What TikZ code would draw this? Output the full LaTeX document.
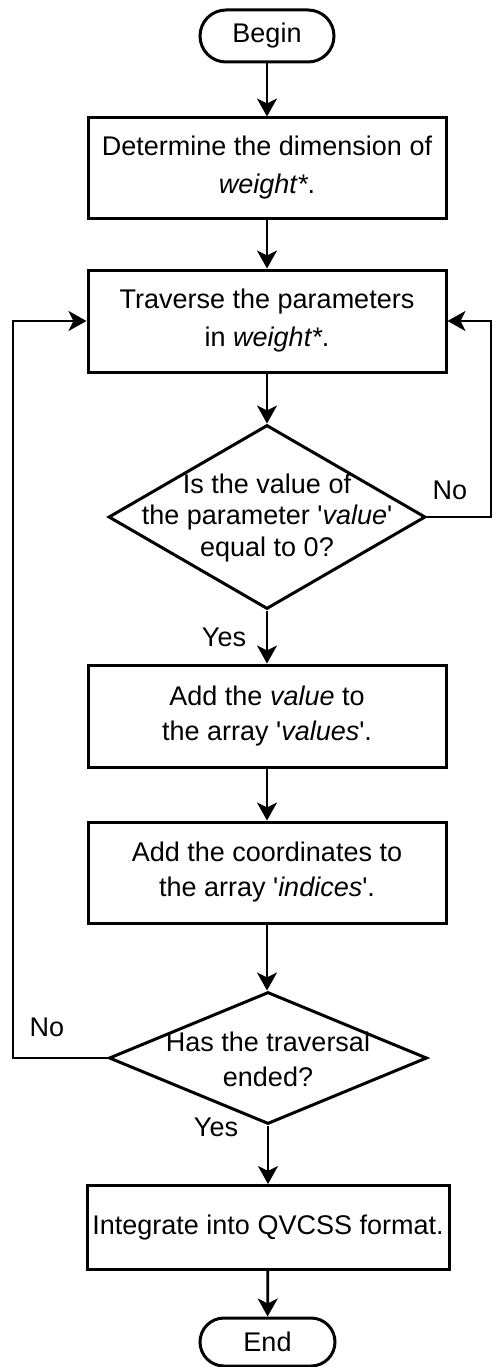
\documentclass[tikz,border=0pt]{standalone}
\usepackage{fontspec}
\setmainfont{Liberation Sans}[Ligatures=TeXOff]
\usetikzlibrary{arrows.meta,shapes.geometric}
\begin{document}
\begin{tikzpicture}[x=1pt,y=-1pt,
  every node/.style={font=\fontsize{27}{35}\selectfont},
  box/.style={draw,line width=3pt,rectangle,minimum width=358pt,align=center,inner sep=0pt},
  term/.style={draw,line width=3pt,rectangle,rounded corners=24pt,minimum width=134pt,minimum height=50pt,inner sep=0pt},
  dia/.style={draw,line width=3pt,diamond,inner sep=0pt},
  dtext/.style={align=center,inner sep=0pt},
  arr/.style={line width=2.7pt,-{Stealth[length=18pt,width=20pt,inset=5pt]}},
  lbl/.style={inner sep=0pt},
]
\useasboundingbox (0,0) rectangle (493,1367);

\node[term,minimum height=52pt,rounded corners=26pt] (begin) at (267,36) {Begin};
\node[box,minimum height=100pt,font=\fontsize{27}{38}\selectfont] (b1) at (267,168)
  {Determine the dimension of\\\textit{weight*}.};
\node[box,minimum height=102pt,font=\fontsize{27}{38}\selectfont] (b2) at (267,321)
  {Traverse the parameters\\in \textit{weight*}.};
\node[dia,minimum width=317pt,minimum height=184pt] (d1) at (267,517) {};
\node[dtext,font=\fontsize{27}{31.5}\selectfont] (t1) at (267,518)
  {Is the value of\\the parameter '\textit{value}'\\equal to 0?};
\node[box,minimum height=102pt] (b3) at (267,716)
  {Add the \textit{value} to\\the array '\textit{values}'.};
\node[box,minimum height=101pt] (b4) at (267,872.5)
  {Add the coordinates to\\the array '\textit{indices}'.};
\node[dia,minimum width=318pt,minimum height=132pt] (d2) at (268,1058) {};
\node[dtext,font=\fontsize{27}{35}\selectfont] (t2) at (268,1059.5)
  {Has the traversal\\ended?};
\node[box,minimum width=362pt,minimum height=84pt] (b5) at (268,1227.5)
  {Integrate into QVCSS format.};
\node[term,minimum width=135pt,minimum height=48pt] (end) at (267.5,1342) {End};

\node[lbl] (no1) at (450,490) {No};
\node[lbl] (yes1) at (224,637) {Yes};
\node[lbl] (no2) at (47,1027) {No};
\node[lbl] (yes2) at (216,1127) {Yes};

\coordinate (rc) at (491,321);
\coordinate (lc) at (13,321);

\draw[arr] (begin) -- (b1);
\draw[arr] (b1) -- (b2);
\draw[arr] (b2.south) -- (d1.north);
\draw[arr] (d1.south) -- (b3.north);
\draw[arr] (b3) -- (b4);
\draw[arr] (b4.south) -- (d2.north -| b4.south);
\draw[arr] (d2.south) -- (b5.north -| d2.south);
\draw[arr] (b5) -- (end);
\draw[arr] (d1.east) -| (rc) -- (b2.east);
\draw[arr] (d2.west) -| (lc) -- (b2.west);
\end{tikzpicture}
\end{document}
